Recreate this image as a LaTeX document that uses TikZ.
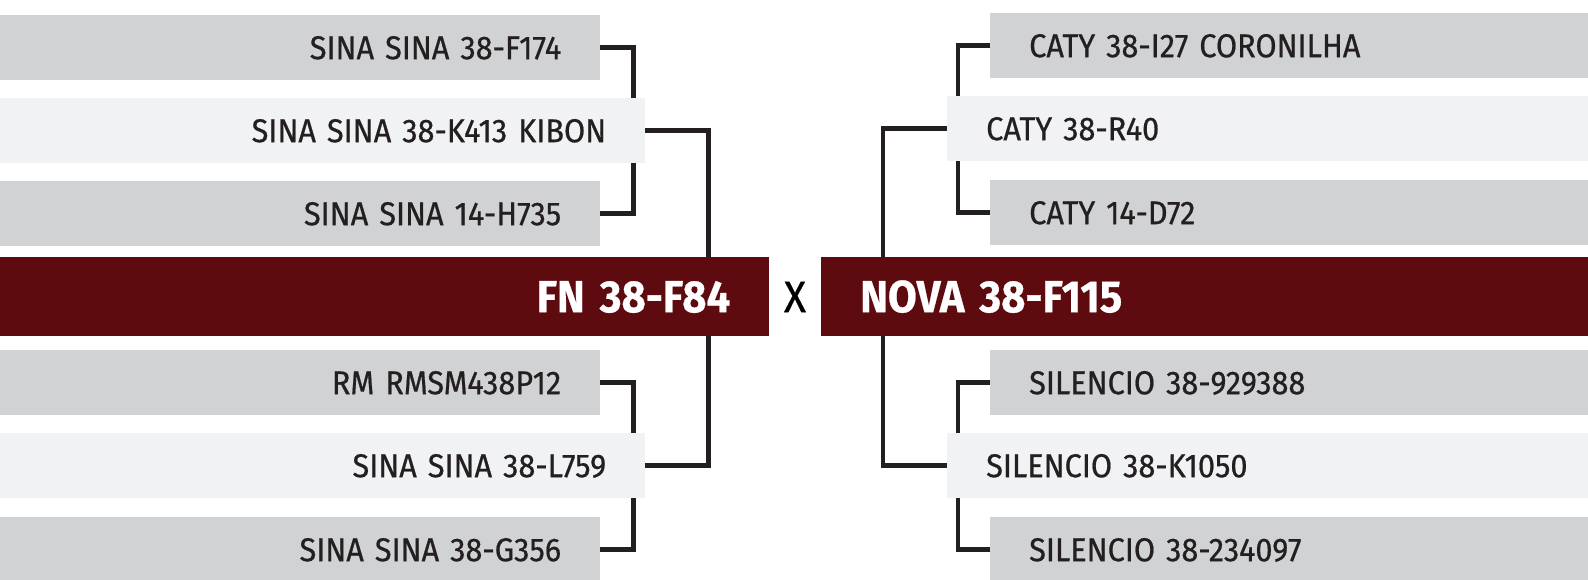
\documentclass[tikz,border=0pt]{standalone}
\usepackage{fontspec}
\setmainfont{Fira Sans}[FakeStretch=0.93, WordSpace=0.6, FakeBold=0.6]
\usetikzlibrary{calc}
\definecolor{cGrey}{HTML}{D1D2D4}
\definecolor{cPale}{HTML}{F1F2F4}
\definecolor{cWine}{HTML}{5E0B0F}
\definecolor{cInk}{HTML}{231F20}
\tikzset{
  slot/.style={fill=#1, text=cInk, font=\fontsize{33}{33}\selectfont,
               minimum height=65pt, text height=23pt, text depth=0pt,
               inner ysep=0pt, inner xsep=39pt, anchor=north west},
  sire/.style={slot=cGrey, align=right, text width=522pt},
  dam/.style={slot=cPale, align=right, text width=567pt},
  rsire/.style={slot=cGrey, align=left, text width=520pt},
  rdam/.style={slot=cPale, align=left, text width=563pt},
  head/.style={fill=cWine, text=white, font=\bfseries\fontsize{45}{45}\selectfont,
               minimum height=79pt, text height=31pt, text depth=0pt,
               inner ysep=0pt, inner xsep=39pt, anchor=north west},
  link/.style={draw=cInk, line width=4.5pt},
}
\begin{document}
\begin{tikzpicture}[x=1pt, y=-1pt]
  \useasboundingbox (0,0) rectangle (1588,580);

  % left pedigree
  \node[sire] (b1) at (0,15) {SINA SINA 38-F174};
  \node[dam] (b2) at (0,98) {SINA SINA 38-K413 KIBON};
  \node[sire] (b3) at (0,181) {SINA SINA 14-H735};
  \node[head, align=right, text width=691pt] (fn) at (0,257) {FN 38-F84};
  \node[sire] (b4) at (0,350) {RM RMSM438P12};
  \node[dam] (b5) at (0,433) {SINA SINA 38-L759};
  \node[sire] (b6) at (0,517) {SINA SINA 38-G356};

  \node[text=black, font=\fontsize{44}{44}\selectfont] (cross) at (795,297) {X};

  % right pedigree
  \node[rsire] (r1) at (990,13) {CATY 38-I27 CORONILHA};
  \node[rdam] (r2) at (947,96) {CATY 38-R40};
  \node[rsire] (r3) at (990,180) {CATY 14-D72};
  \node[head, align=left, text width=689pt] (nova) at (821,257) {NOVA 38-F115};
  \node[rsire] (r4) at (990,350) {SILENCIO 38-929388};
  \node[rdam] (r5) at (947,433) {SILENCIO 38-K1050};
  \node[rsire] (r6) at (990,517) {SILENCIO 38-234097};

  \coordinate (j1) at ([xshift=33pt]b1.east);
  \coordinate (k1) at ([xshift=63pt]b2.east);
  \coordinate (j2) at ([xshift=-32pt]r1.west);
  \coordinate (k2) at ([xshift=-64pt]r2.west);

  \draw[link] (b1.east) -| (j1 |- b2.north);
  \draw[link] (b3.east) -| (j1 |- b2.south);
  \draw[link] (b2.east) -| (k1 |- fn.north);
  \draw[link] (b4.east) -| (j1 |- b5.north);
  \draw[link] (b6.east) -| (j1 |- b5.south);
  \draw[link] (b5.east) -| (k1 |- fn.south);

  \draw[link] (r1.west) -| (j2 |- r2.north);
  \draw[link] (r3.west) -| (j2 |- r2.south);
  \draw[link] (r2.west) -| (k2 |- nova.north);
  \draw[link] (r4.west) -| (j2 |- r5.north);
  \draw[link] (r6.west) -| (j2 |- r5.south);
  \draw[link] (r5.west) -| (k2 |- nova.south);
\end{tikzpicture}
\end{document}
